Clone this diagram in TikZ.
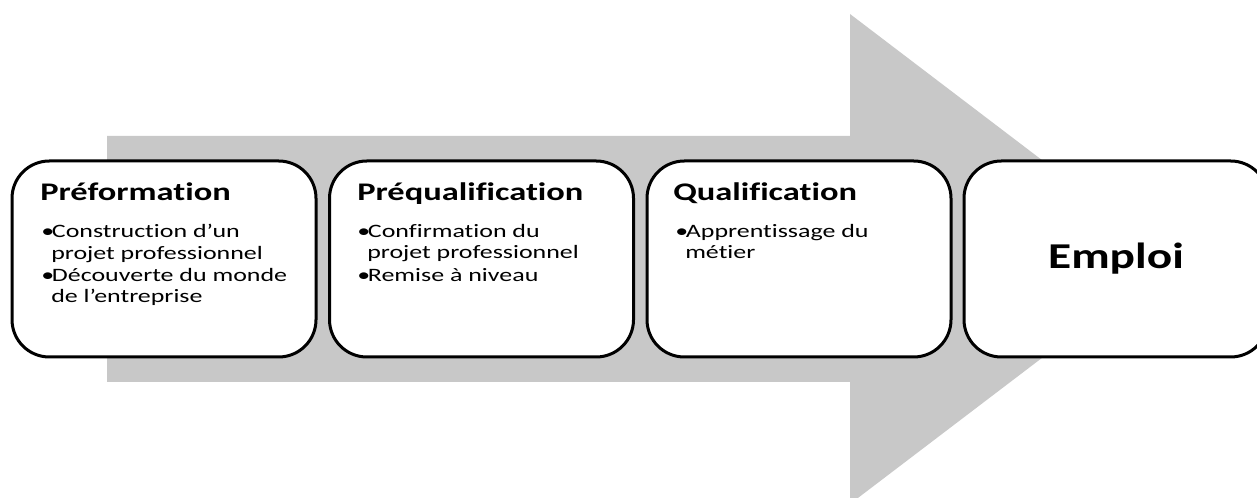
\documentclass[tikz,border=0pt]{standalone}
\usepackage{fontspec}
\setmainfont{Carlito}[FakeStretch=1.3, Ligatures=NoCommon]
\newfontfamily\titrefont{Carlito}[FakeStretch=1.36, Ligatures=NoCommon]
\newfontfamily\lignefont{Carlito}[FakeStretch=1.37, Ligatures=NoCommon]
\definecolor{fleche}{RGB}{200,200,200}
\newcommand{\puce}{\makebox[8pt][l]{\textbullet}}
\tikzset{
  etape/.style={draw, line width=2.25pt, rounded corners=28pt, fill=white,
    minimum width=228pt, minimum height=147pt, inner sep=0pt},
  titre/.style={anchor=base west, inner sep=0pt, font=\titrefont\fontsize{19}{22}\selectfont\bfseries},
  ligne/.style={anchor=base west, inner sep=0pt, font=\lignefont\fontsize{14.2}{17}\selectfont}
}
\begin{document}
\begin{tikzpicture}[x=0.75pt, y=-0.75pt]
    \useasboundingbox (0,0) rectangle (1257,498);
    \clip (0,0) rectangle (1257,498);
    % big grey arrow behind the steps
    \fill[fleche] (107,136) -- (850,136) -- (850,14) -- (1172,259)
      -- (850,504) -- (850,382) -- (107,382) -- cycle;
    \node[etape] (Preformation) at (164,259) {};
    \node[etape] (Prequalification) at (481.5,259) {};
    \node[etape] (Qualification) at (799,259) {};
    \node[etape, font=\fontsize{27.3}{30}\selectfont\bfseries] (Emploi) at (1116,259) {Emploi};
    % Préformation
    \node[titre] (titrePre) at (40,201) {Préformation};
    \node[ligne] (pre1) at (41,238) {\puce Construction d’un};
    \node[ligne] (pre2) at (51,260) {projet professionnel};
    \node[ligne] (pre3) at (41,282) {\puce Découverte du monde};
    \node[ligne] (pre4) at (51,303) {de l’entreprise};
    % Préqualification
    \node[titre] (titrePreq) at (357,201) {Préqualification};
    \node[ligne] (preq1) at (357,238) {\puce Confirmation du};
    \node[ligne] (preq2) at (367,259) {projet professionnel};
    \node[ligne] (preq3) at (357,282) {\puce Remise à niveau};
    % Qualification
    \node[titre] (titreQual) at (673,201) {Qualification};
    \node[ligne] (qual1) at (675,238) {\puce Apprentissage du};
    \node[ligne] (qual2) at (685,259) {métier};
  \end{tikzpicture}
\end{document}
